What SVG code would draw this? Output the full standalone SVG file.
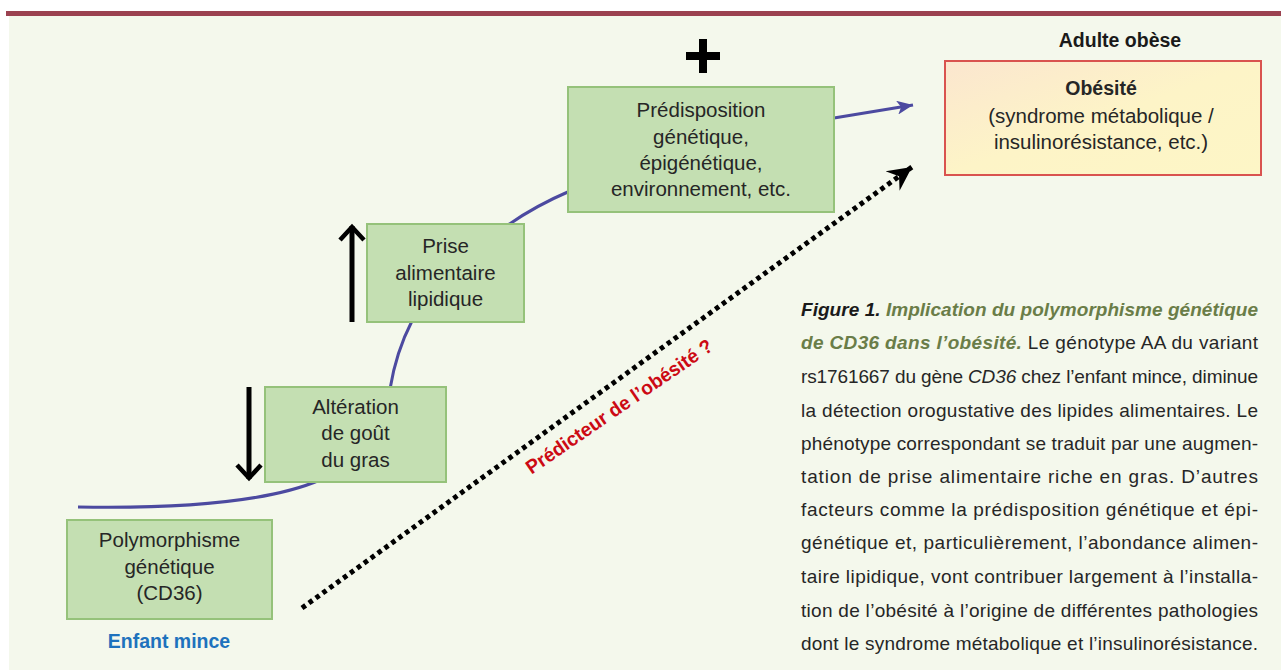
<svg xmlns="http://www.w3.org/2000/svg" width="1281" height="670" viewBox="0 0 1281 670">
<style>
  .box { fill: #c4dfb2; stroke: #95c27a; stroke-width: 2; }
  .bt { font-family: "Liberation Sans", Arial, sans-serif; font-size: 20.5px; fill: #262626; text-anchor: middle; }
  .cap { font-family: "Liberation Sans", Arial, sans-serif; font-size: 19px; fill: #262626; }
  .gi { font-weight: bold; font-style: italic; fill: #6a7d48; }
  .curve { fill: none; stroke: #4c4aa0; stroke-width: 3; }
  .bar { fill: none; stroke: #000; stroke-width: 5; }
</style>
<defs>
  <linearGradient id="yel" x1="0" y1="0" x2="1" y2="1">
    <stop offset="0" stop-color="#fbe6cf"/>
    <stop offset="0.5" stop-color="#fdf4c7"/>
    <stop offset="1" stop-color="#fdf6c6"/>
  </linearGradient>
  <marker id="blueHead" markerUnits="userSpaceOnUse" markerWidth="20" markerHeight="14" refX="16" refY="7" orient="auto">
    <path d="M0,0 L16,7 L0,14 L4,7 z" fill="#4c4aa0"/>
  </marker>
  <marker id="dotHead" markerUnits="userSpaceOnUse" markerWidth="28" markerHeight="26" refX="24" refY="13" orient="auto">
    <path d="M0,1 L24,13 L0,25 L8,13 z" fill="#000"/>
  </marker>
  <marker id="chev" markerUnits="userSpaceOnUse" markerWidth="26" markerHeight="28" refX="16" refY="14" orient="auto">
    <path d="M2,2 L15,14 L2,26" fill="none" stroke="#000" stroke-width="4.5" stroke-linejoin="miter"/>
  </marker>
</defs>

<rect x="0" y="0" width="1281" height="670" fill="#ffffff"/>
<rect x="9" y="16" width="1272" height="654" fill="#f4f8ec"/>
<rect x="6" y="11" width="1275" height="5" fill="#9b4250"/>

<g id="connectors">
  <path class="curve" d="M78,507 Q250,510 320,480"/>
  <path class="curve" d="M390,389 Q396,352 412,321"/>
  <path class="curve" d="M508,225 Q535,206 570,191"/>
  <path class="curve" d="M834,118 L913,105" marker-end="url(#blueHead)"/>
  <path d="M302,608 L912,167" fill="none" stroke="#000" stroke-width="5" stroke-dasharray="4.5 4" marker-end="url(#dotHead)"/>
  <path class="bar" d="M249,387 L249,479" marker-end="url(#chev)"/>
  <path class="bar" d="M352,322 L352,226" marker-end="url(#chev)"/>
  <path d="M703,39 L703,73 M686,56 L720,56" fill="none" stroke="#000" stroke-width="8"/>
</g>

<g id="n-polymorphisme">
  <rect class="box" x="67" y="520" width="205" height="99"/>
  <text class="bt" x="169.5" y="547">Polymorphisme</text>
  <text class="bt" x="169.5" y="574">génétique</text>
  <text class="bt" x="169.5" y="600">(CD36)</text>
</g>
<g id="l-enfant">
  <text x="169" y="648" font-family="Liberation Sans, Arial, sans-serif" font-weight="bold" font-size="19.5" fill="#1e72bd" text-anchor="middle">Enfant mince</text>
</g>

<g id="n-alteration">
  <rect class="box" x="265" y="387" width="181" height="95"/>
  <text class="bt" x="355.5" y="414">Altération</text>
  <text class="bt" x="355.5" y="440">de goût</text>
  <text class="bt" x="355.5" y="467">du gras</text>
</g>

<g id="n-prise">
  <rect class="box" x="367" y="224" width="157" height="98"/>
  <text class="bt" x="445.5" y="253">Prise</text>
  <text class="bt" x="445.5" y="280">alimentaire</text>
  <text class="bt" x="445.5" y="306">lipidique</text>
</g>

<g id="n-predisposition">
  <rect class="box" x="568" y="87" width="266" height="125"/>
  <text class="bt" x="701" y="117">Prédisposition</text>
  <text class="bt" x="701" y="144">génétique,</text>
  <text class="bt" x="701" y="170">épigénétique,</text>
  <text class="bt" x="701" y="196">environnement, etc.</text>
</g>

<g id="l-adulte">
  <text x="1120" y="47" font-family="Liberation Sans, Arial, sans-serif" font-weight="bold" font-size="19.5" fill="#1a1a1a" text-anchor="middle">Adulte obèse</text>
</g>

<g id="n-obesite">
  <rect x="945" y="61" width="316" height="114" fill="url(#yel)" stroke="#d9534f" stroke-width="2"/>
  <text class="bt" x="1101" y="95" font-weight="bold" style="font-size:19.5px">Obésité</text>
  <text class="bt" x="1101" y="123">(syndrome métabolique /</text>
  <text class="bt" x="1101" y="149">insulinorésistance, etc.)</text>
</g>

<g id="l-predicteur">
  <text transform="translate(623,412) rotate(-34.5)" x="0" y="0" font-family="Liberation Sans, Arial, sans-serif" font-weight="bold" font-size="19.5" fill="#cc0a14" text-anchor="middle" textLength="222" lengthAdjust="spacingAndGlyphs">Prédicteur de l’obésité ?</text>
</g>

<g id="caption">
  <text class="cap" x="801" y="316" textLength="457" lengthAdjust="spacing"><tspan font-weight="bold" font-style="italic" fill="#1a1a1a">Figure 1.</tspan><tspan class="gi"> Implication du polymorphisme génétique</tspan></text>
  <text class="cap" x="801" y="349" textLength="457" lengthAdjust="spacing"><tspan class="gi">de CD36 dans l’obésité.</tspan> Le génotype AA du variant</text>
  <text class="cap" x="801" y="383" textLength="457" lengthAdjust="spacing">rs1761667 du gène <tspan font-style="italic">CD36</tspan> chez l’enfant mince, diminue</text>
  <text class="cap" x="801" y="417" textLength="457" lengthAdjust="spacing">la détection orogustative des lipides alimentaires. Le</text>
  <text class="cap" x="801" y="450" textLength="457" lengthAdjust="spacing">phénotype correspondant se traduit par une augmen-</text>
  <text class="cap" x="801" y="483" textLength="457" lengthAdjust="spacing">tation de prise alimentaire riche en gras. D’autres</text>
  <text class="cap" x="801" y="516" textLength="457" lengthAdjust="spacing">facteurs comme la prédisposition génétique et épi-</text>
  <text class="cap" x="801" y="549" textLength="457" lengthAdjust="spacing">génétique et, particulièrement, l’abondance alimen-</text>
  <text class="cap" x="801" y="583" textLength="457" lengthAdjust="spacing">taire lipidique, vont contribuer largement à l’installa-</text>
  <text class="cap" x="801" y="617" textLength="457" lengthAdjust="spacing">tion de l’obésité à l’origine de différentes pathologies</text>
  <text class="cap" x="801" y="650" textLength="457" lengthAdjust="spacing">dont le syndrome métabolique et l’insulinorésistance.</text>
</g>
</svg>
